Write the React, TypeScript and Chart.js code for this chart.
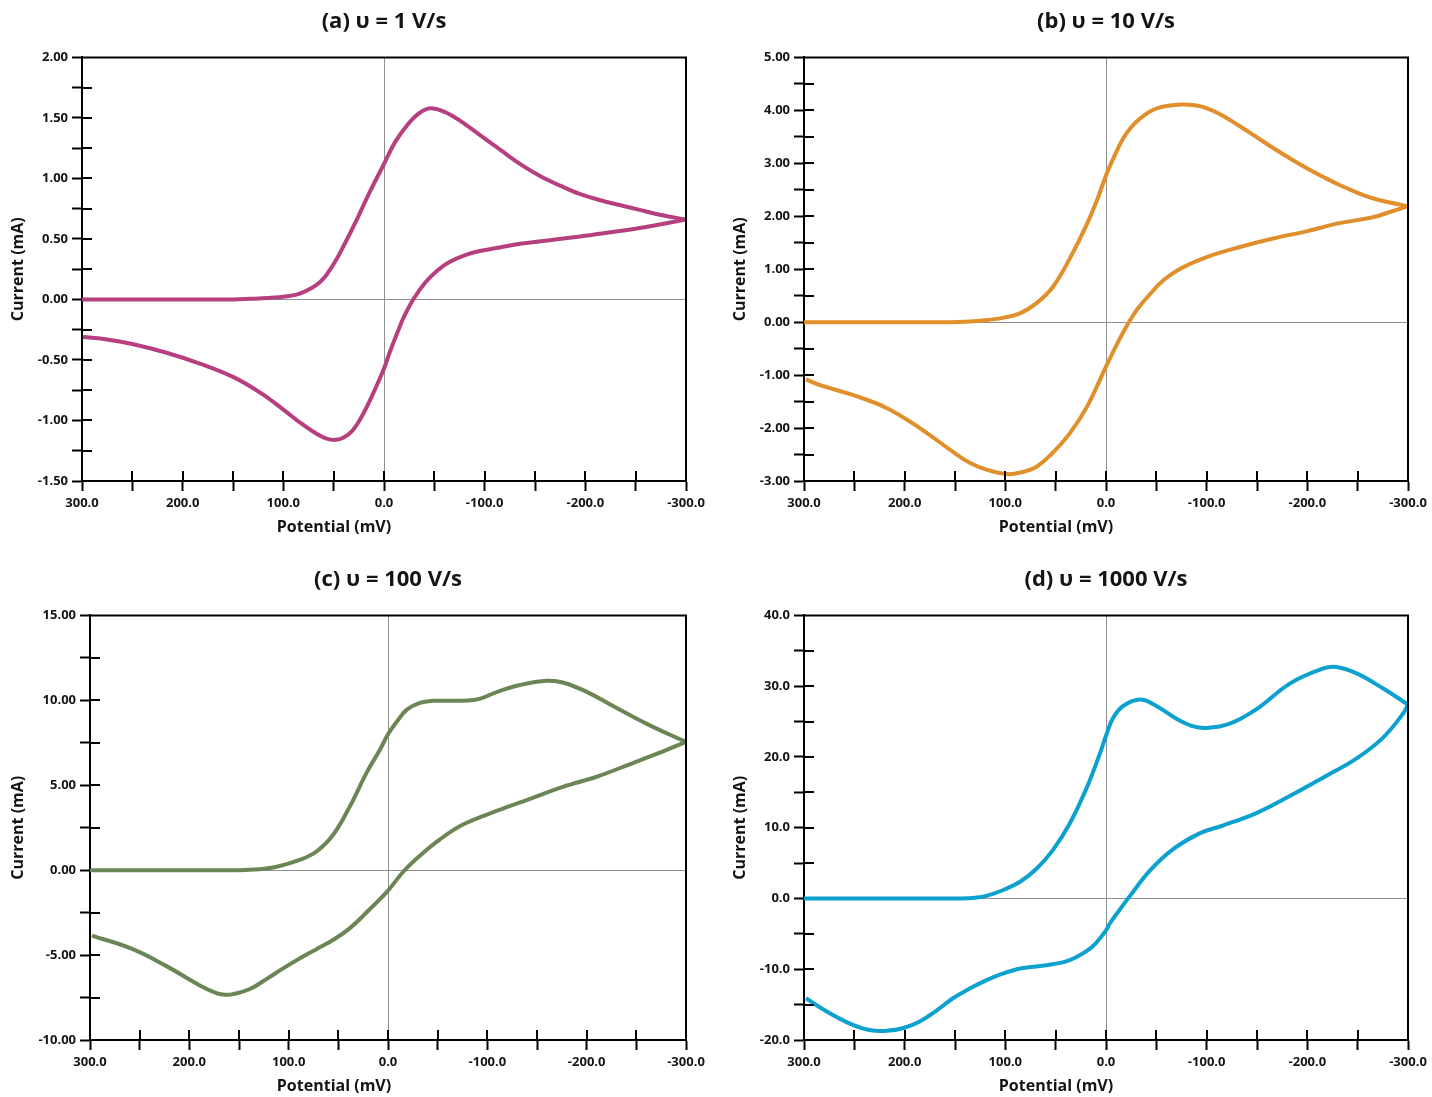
import React, { useEffect, useRef } from 'react';
import { Chart, registerables } from 'chart.js';

Chart.register(...registerables);

// ---------- Data (potential in mV, current in mA) ----------
// (a) 1 V/s
const aFwdPotential = [300, 250, 200, 150, 133, 115, 98, 83, 64, 51, 39, 27, 14, 0, -11, -24, -35, -46, -60, -75, -95, -115, -135, -155, -175, -195, -215, -234, -254, -274, -300];
const aFwdCurrent = [0, 0, 0, 0, 0.005, 0.012, 0.025, 0.05, 0.14, 0.28, 0.46, 0.66, 0.89, 1.12, 1.3, 1.45, 1.54, 1.58, 1.55, 1.48, 1.36, 1.24, 1.12, 1.02, 0.94, 0.87, 0.82, 0.78, 0.74, 0.7, 0.66];
const aRevPotential = [-300, -274, -254, -225, -195, -165, -135, -115, -95, -80, -65, -53, -41, -29, -20, -13, -6, 0, 11, 21, 31, 40, 48, 57, 67, 83, 100, 123, 150, 183, 216, 249, 275, 299];
const aRevCurrent = [0.66, 0.62, 0.59, 0.555, 0.52, 0.49, 0.46, 0.43, 0.4, 0.365, 0.31, 0.24, 0.14, 0.0, -0.14, -0.28, -0.43, -0.57, -0.78, -0.95, -1.08, -1.14, -1.16, -1.15, -1.11, -1.02, -0.91, -0.77, -0.64, -0.53, -0.44, -0.37, -0.33, -0.31];

// (b) 10 V/s
const bFwdPotential = [300, 250, 200, 155, 135, 118, 100, 85, 69, 53, 36, 19, 8, 0, -8, -17, -25, -34, -51, -74, -90, -103, -116, -133, -150, -166, -183, -200, -216, -232, -249, -265, -282, -300];
const bFwdCurrent = [0, 0, 0, 0, 0.01, 0.04, 0.09, 0.17, 0.36, 0.66, 1.2, 1.85, 2.35, 2.77, 3.12, 3.47, 3.68, 3.85, 4.04, 4.11, 4.09, 4.02, 3.9, 3.7, 3.49, 3.29, 3.09, 2.9, 2.74, 2.59, 2.45, 2.34, 2.26, 2.19];
const bRevPotential = [-300, -282, -265, -232, -200, -166, -133, -100, -77, -57, -41, -33, -27, -21, -11, 0, 19, 36, 53, 69, 85, 98, 118, 135, 152, 185, 218, 251, 284, 298];
const bRevCurrent = [2.19, 2.08, 1.98, 1.87, 1.72, 1.58, 1.42, 1.23, 1.04, 0.79, 0.47, 0.29, 0.13, -0.06, -0.41, -0.84, -1.6, -2.1, -2.47, -2.73, -2.84, -2.87, -2.79, -2.66, -2.45, -2.0, -1.62, -1.38, -1.19, -1.08];

// (c) 100 V/s
const cFwdPotential = [300, 250, 200, 150, 130, 112, 89, 72, 55, 38, 21, 8, 0, -9, -19, -32, -45, -60, -80, -93, -110, -133, -160, -176, -200, -227, -261, -300];
const cFwdCurrent = [0, 0, 0, 0, 0.05, 0.2, 0.6, 1.1, 2.1, 3.8, 5.8, 7.1, 8.0, 8.75, 9.45, 9.85, 9.97, 9.97, 9.99, 10.1, 10.5, 10.9, 11.15, 11.05, 10.5, 9.65, 8.6, 7.55];
const cRevPotential = [-300, -277, -244, -210, -176, -143, -110, -76, -52, -32, -16, 0, 21, 38, 55, 72, 89, 106, 122, 139, 156, 164, 172, 189, 223, 257, 298];
const cRevCurrent = [7.55, 7.0, 6.25, 5.5, 4.9, 4.2, 3.5, 2.7, 1.8, 0.85, -0.05, -1.2, -2.45, -3.4, -4.1, -4.65, -5.2, -5.8, -6.4, -7.0, -7.3, -7.33, -7.25, -6.8, -5.65, -4.65, -3.85];

// (d) 1000 V/s
const dFwdPotential = [300, 250, 200, 145, 130, 118, 102, 85, 69, 53, 36, 19, 6, 0, -7, -17, -34, -50, -70, -85, -100, -123, -150, -183, -216, -229, -249, -275, -300];
const dFwdCurrent = [0, 0, 0, 0, 0.1, 0.4, 1.2, 2.4, 4.2, 6.8, 10.6, 15.7, 20.5, 23.0, 25.5, 27.2, 28.1, 27.2, 25.4, 24.4, 24.1, 24.7, 26.8, 30.4, 32.5, 32.7, 31.8, 29.7, 27.4];
const dRevPotential = [-300, -295, -275, -249, -216, -183, -150, -116, -93, -67, -44, -24, -12, -4, 0, 10, 19, 36, 53, 69, 85, 102, 118, 135, 152, 168, 185, 201, 218, 235, 251, 267, 284, 298];
const dRevCurrent = [27.4, 26.1, 22.7, 19.8, 17.1, 14.5, 12.1, 10.3, 9.2, 7.0, 4.0, 0.4, -1.9, -3.5, -4.5, -6.3, -7.4, -8.7, -9.3, -9.6, -9.9, -10.6, -11.5, -12.7, -14.1, -15.8, -17.4, -18.3, -18.7, -18.6, -17.9, -16.8, -15.4, -14.1];

// Axis setup
const xTickLabels = [300, 200, 100, 0, -100, -200, -300];
const xAxisTitle = 'Potential (mV)';
const yAxisTitle = 'Current (mA)';
const titles = ['(a) υ = 1 V/s', '(b) υ = 10 V/s', '(c) υ = 100 V/s', '(d) υ = 1000 V/s'];
const yRanges = [
  { min: -1.5, max: 2, minor: 0.25, major: 0.5, digits: 2 },
  { min: -3, max: 5, minor: 0.5, major: 1, digits: 2 },
  { min: -10, max: 15, minor: 2.5, major: 5, digits: 2 },
  { min: -20, max: 40, minor: 5, major: 10, digits: 1 },
];
const colors = ['#B63F80', '#E08F2B', '#6B8654', '#0DA1CF'];

const series = [
  { fx: aFwdPotential, fy: aFwdCurrent, rx: aRevPotential, ry: aRevCurrent },
  { fx: bFwdPotential, fy: bFwdCurrent, rx: bRevPotential, ry: bRevCurrent },
  { fx: cFwdPotential, fy: cFwdCurrent, rx: cRevPotential, ry: cRevCurrent },
  { fx: dFwdPotential, fy: dFwdCurrent, rx: dRevPotential, ry: dRevCurrent },
];

// layout of the four panels
const panels = [
  { left: 0, top: 0, width: 716, height: 538, yW: 82, padR: 30, xTitleShift: -50 },
  { left: 722, top: 0, width: 710, height: 538, yW: 82, padR: 24, xTitleShift: -50 },
  { left: 0, top: 558, width: 716, height: 539, yW: 90, padR: 30, xTitleShift: -54 },
  { left: 722, top: 558, width: 710, height: 539, yW: 82, padR: 24, xTitleShift: -50 },
];

const FONT = "'Open Sans', 'DejaVu Sans', sans-serif";
const TEXT = '#141414';

const framePlugin = {
  id: 'frameTicks',
  afterDraw(chart: any, _args: any, opts: any) {
    const { ctx, chartArea, scales } = chart;
    const { left, right, top, bottom } = chartArea;
    ctx.save();
    ctx.strokeStyle = '#000';
    ctx.lineWidth = 2;
    ctx.beginPath();
    ctx.moveTo(left - 1, top);
    ctx.lineTo(right, top);
    ctx.lineTo(right, bottom + 1);
    ctx.stroke();
    const xs = scales.x;
    const ys = scales.y;
    ctx.beginPath();
    xs.ticks.forEach((t: any) => {
      if (t.value === xs.min || t.value === xs.max) return;
      const px = Math.round(xs.getPixelForValue(t.value));
      ctx.moveTo(px, bottom);
      ctx.lineTo(px, bottom - 10);
    });
    ys.ticks.forEach((t: any) => {
      if (Math.abs(t.value - ys.min) < 1e-9 || Math.abs(t.value - ys.max) < 1e-9 || Math.abs(t.value) < 1e-9) return;
      const py = Math.round(ys.getPixelForValue(t.value));
      ctx.moveTo(left, py);
      ctx.lineTo(left + 10, py);
    });
    ctx.stroke();
    // x axis title
    ctx.fillStyle = TEXT;
    ctx.font = `bold 16px ${FONT}`;
    ctx.textAlign = 'center';
    ctx.textBaseline = 'middle';
    ctx.fillText(opts.text, (left + right) / 2 + opts.shift, chart.height - 10.6);
    ctx.restore();
  },
};

function makeConfig(i: number): any {
  const s = series[i];
  const yr = yRanges[i];
  const p = panels[i];
  const toPts = (xs: number[], ys: number[]) => xs.map((x, k) => ({ x, y: ys[k] }));
  const ds = (data: any[]) => ({
    data,
    borderColor: colors[i],
    backgroundColor: colors[i],
    borderWidth: 4,
    pointRadius: 0,
    showLine: true,
    tension: 0.4,
    fill: false,
  });
  const gridColor = (c: any) => (c.tick && Math.abs(c.tick.value) < 1e-9 ? '#8f8f8f' : 'rgba(0,0,0,0)');
  return {
    type: 'scatter',
    data: { datasets: [ds(toPts(s.fx, s.fy)), ds(toPts(s.rx, s.ry))] },
    options: {
      responsive: false,
      animation: false,
      layout: { padding: { left: 0, right: p.padR, top: 0, bottom: 0 } },
      plugins: {
        legend: { display: false },
        tooltip: { enabled: false },
        title: {
          display: true,
          text: titles[i],
          fullSize: false,
          color: TEXT,
          font: { family: FONT, size: 22, weight: 'bold' },
          padding: { top: 9, bottom: 22 },
        },
        frameTicks: { text: xAxisTitle, shift: p.xTitleShift },
      },
      scales: {
        x: {
          type: 'linear',
          reverse: true,
          min: -300,
          max: 300,
          afterFit: (sc: any) => { sc.height = 57; },
          border: { display: true, color: '#000', width: 2 },
          grid: { color: gridColor, lineWidth: 1, drawTicks: true, tickLength: 10, tickColor: '#000', tickWidth: 2 },
          ticks: {
            stepSize: 50,
            autoSkip: false,
            maxRotation: 0,
            padding: 4,
            color: TEXT,
            font: { family: FONT, size: 13, weight: 'bold' },
            callback: (v: any) => (xTickLabels.some((t) => Math.abs(t - v) < 1e-6) ? Number(v).toFixed(1) : ''),
          },
          title: { display: false },
        },
        y: {
          type: 'linear',
          min: yr.min,
          max: yr.max,
          afterFit: (sc: any) => { sc.width = p.yW; },
          border: { display: true, color: '#000', width: 2 },
          grid: { color: gridColor, lineWidth: 1, drawTicks: true, tickLength: 10, tickColor: '#000', tickWidth: 2 },
          ticks: {
            stepSize: yr.minor,
            autoSkip: false,
            padding: 4,
            color: TEXT,
            font: { family: FONT, size: 13, weight: 'bold' },
            callback: (v: any) => {
              const r = v / yr.major;
              return Math.abs(r - Math.round(r)) < 1e-6 ? Number(v).toFixed(yr.digits) : '';
            },
          },
          title: {
            display: true,
            text: yAxisTitle,
            color: TEXT,
            font: { family: FONT, size: 16, weight: 'bold' },
            padding: { top: 9, bottom: 0 },
          },
        },
      },
    },
    plugins: [framePlugin],
  };
}

function Panel({ index }: { index: number }) {
  const ref = useRef<HTMLCanvasElement | null>(null);
  useEffect(() => {
    if (!ref.current) return;
    const chart = new Chart(ref.current, makeConfig(index));
    return () => chart.destroy();
  }, [index]);
  const p = panels[index];
  return (
    <canvas
      ref={ref}
      width={p.width}
      height={p.height}
      style={{ position: 'absolute', left: p.left, top: p.top, width: p.width, height: p.height }}
    />
  );
}

export default function App() {
  return (
    <div style={{ position: 'absolute', left: 0, top: 0, width: 1432, height: 1097, background: '#fff', overflow: 'hidden' }}>
      {panels.map((_, i) => (
        <Panel key={i} index={i} />
      ))}
    </div>
  );
}
